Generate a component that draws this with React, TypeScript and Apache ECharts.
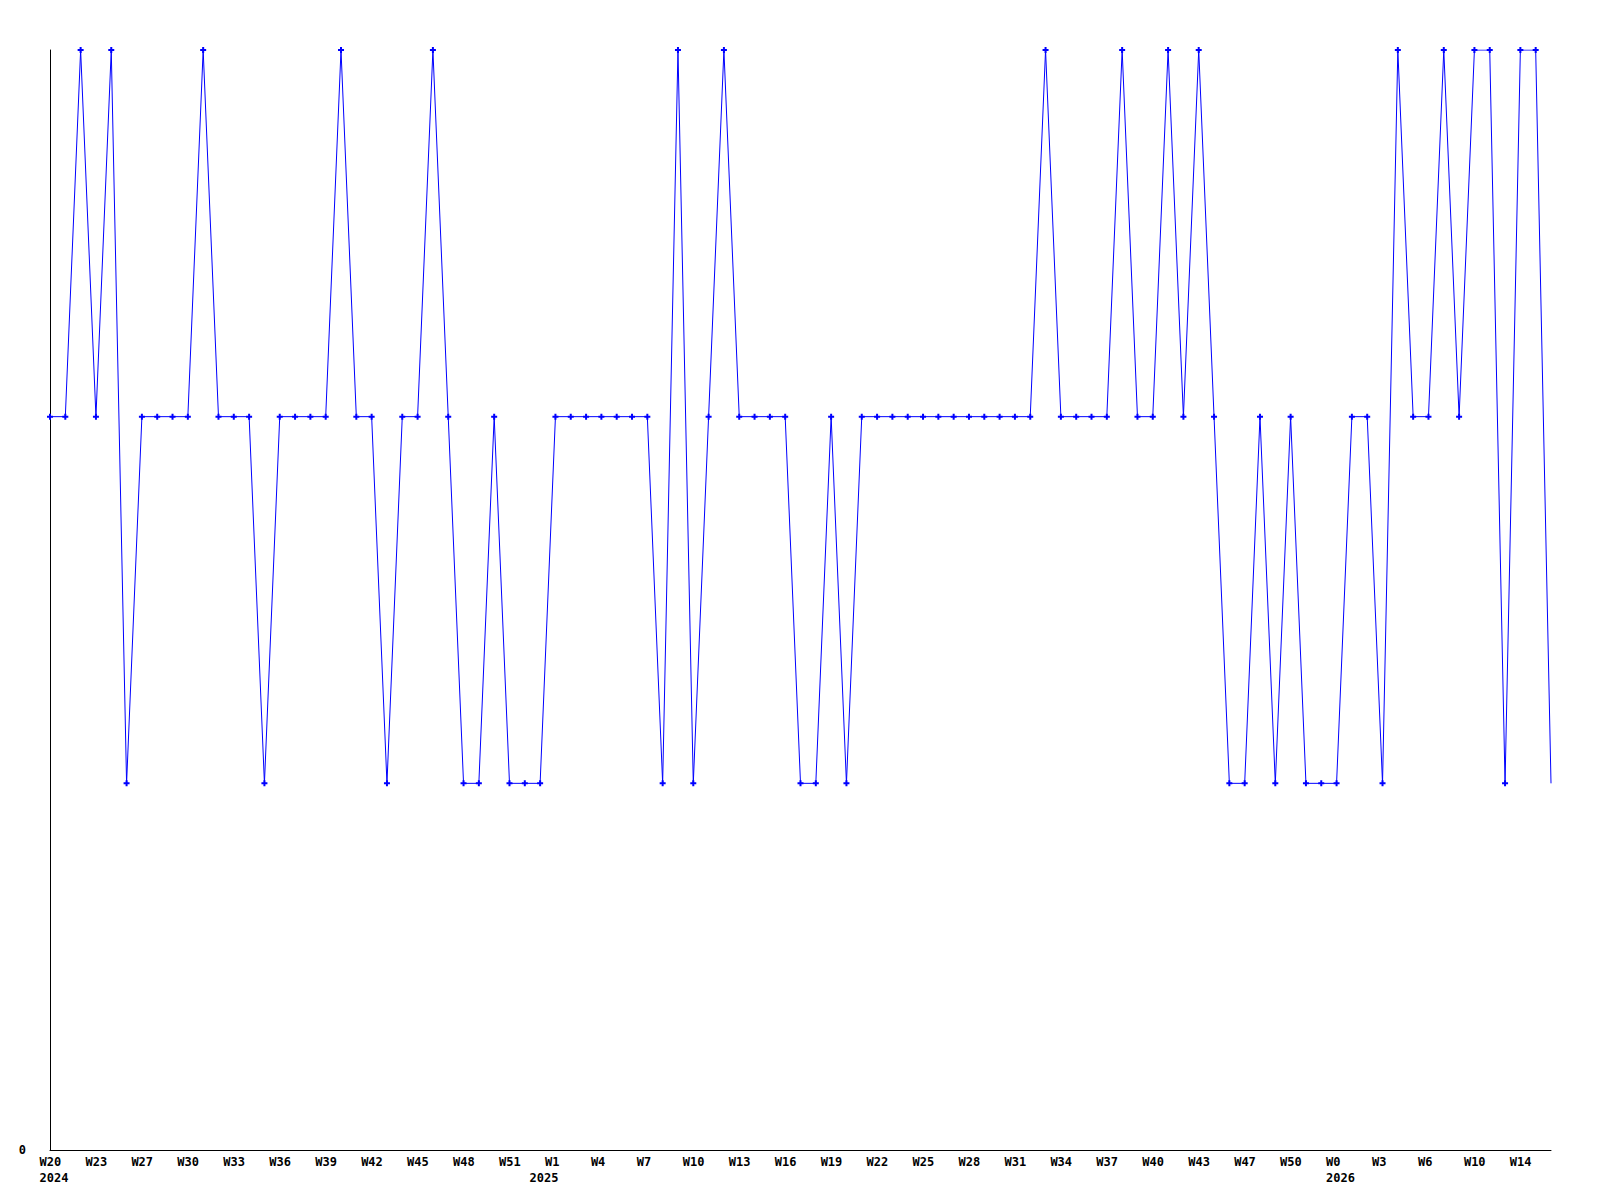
import React, { useEffect, useRef } from "react";
import * as echarts from "echarts";

// Weekly categories (every third one is labelled on the axis)
const weeks: string[] = [
  "W20", "W21", "W22", "W23", "W25", "W26", "W27", "W28", "W29", "W30",
  "W31", "W32", "W33", "W34", "W35", "W36", "W37", "W38", "W39", "W40",
  "W41", "W42", "W43", "W44", "W45", "W46", "W47", "W48", "W49", "W50",
  "W51", "W52", "W0", "W1", "W2", "W3", "W4", "W5", "W6", "W7",
  "W8", "W9", "W10", "W11", "W12", "W13", "W14", "W15", "W16", "W17",
  "W18", "W19", "W20", "W21", "W22", "W23", "W24", "W25", "W26", "W27",
  "W28", "W29", "W30", "W31", "W32", "W33", "W34", "W35", "W36", "W37",
  "W38", "W39", "W40", "W41", "W42", "W43", "W44", "W46", "W47", "W48",
  "W49", "W50", "W51", "W52", "W0", "W1", "W2", "W3", "W4", "W5",
  "W6", "W7", "W9", "W10", "W12", "W13", "W14", "W15", "W16",
];

const values: number[] = [
  2, 2, 3, 2, 3, 1, 2, 2, 2, 2,
  3, 2, 2, 2, 1, 2, 2, 2, 2, 3,
  2, 2, 1, 2, 2, 3, 2, 1, 1, 2,
  1, 1, 1, 2, 2, 2, 2, 2, 2, 2,
  1, 3, 1, 2, 3, 2, 2, 2, 2, 1,
  1, 2, 1, 2, 2, 2, 2, 2, 2, 2,
  2, 2, 2, 2, 2, 3, 2, 2, 2, 2,
  3, 2, 2, 3, 2, 3, 2, 1, 1, 2,
  1, 2, 1, 1, 1, 2, 2, 1, 3, 2,
  2, 3, 2, 3, 3, 1, 3, 3, 1,
];

const yearMarkIndex: number[] = [0, 32, 84];
const yearMarkLabel: string[] = ["2024", "2025", "2026"];

const yTickLabels: string[] = ["0"];
const yMax = 3;
const labelEvery = 3;

const FONT = "'DejaVu Sans Mono', 'Liberation Mono', monospace";
const BLUE = "#0000ff";

export default function App() {
  const ref = useRef<HTMLDivElement>(null);

  useEffect(() => {
    if (!ref.current) return;
    const chart = echarts.init(ref.current, undefined, { renderer: "svg" });

    const seriesData = values.map((v, i) =>
      i === values.length - 1 ? { value: v, symbol: "none" } : v
    );

    const option: any = {
      animation: false,
      backgroundColor: "#ffffff",
      grid: { left: 50, right: 49, top: 50, bottom: 50, containLabel: false },
      xAxis: [
        {
          type: "category",
          data: weeks,
          boundaryGap: false,
          position: "bottom",
          axisLine: { show: true, lineStyle: { color: "#000", width: 1 } },
          axisTick: { show: false },
          splitLine: { show: false },
          axisLabel: {
            interval: (index: number) => index % labelEvery === 0,
            margin: 6,
            align: "center",
            formatter: (v: string) => `{w|${v}}`,
            rich: {
              w: {
                width: 21,
                align: "left",
                fontFamily: FONT,
                fontWeight: "bold",
                fontSize: 12,
                color: "#000",
                lineHeight: 12,
              },
            },
          },
        },
        {
          type: "category",
          data: weeks,
          boundaryGap: false,
          position: "bottom",
          offset: 16,
          axisLine: { show: false },
          axisTick: { show: false },
          splitLine: { show: false },
          axisLabel: {
            interval: (index: number) => yearMarkIndex.indexOf(index) >= 0,
            margin: 6,
            align: "center",
            formatter: (_v: string, index: number) => {
              const k = yearMarkIndex.indexOf(index);
              return k >= 0 ? `{y|${yearMarkLabel[k]}}` : "";
            },
            rich: {
              y: {
                width: 21,
                align: "left",
                fontFamily: FONT,
                fontWeight: "bold",
                fontSize: 12,
                color: "#000",
                lineHeight: 12,
              },
            },
          },
        },
      ],
      yAxis: {
        type: "value",
        min: 0,
        max: yMax,
        interval: yMax,
        axisLine: { show: true, lineStyle: { color: "#000", width: 1 } },
        axisTick: { show: false },
        splitLine: { show: false },
        axisLabel: {
          margin: 24,
          fontFamily: FONT,
          fontWeight: "bold",
          fontSize: 12,
          color: "#000",
          formatter: (v: number) => (v === 0 ? yTickLabels[0] : ""),
        },
      },
      series: [
        {
          type: "line",
          xAxisIndex: 0,
          data: seriesData,
          symbol: "path://M2,0H4V2H6V4H4V6H2V4H0V2H2Z",
          symbolSize: 6,
          showSymbol: true,
          showAllSymbol: true,
          lineStyle: { color: BLUE, width: 1 },
          itemStyle: { color: BLUE },
          emphasis: { disabled: true },
        },
      ],
    };

    chart.setOption(option);
    return () => chart.dispose();
  }, []);

  return (
    <div
      ref={ref}
      style={{ position: "fixed", left: 0, top: 0, width: 1600, height: 1200, background: "#fff" }}
    />
  );
}
